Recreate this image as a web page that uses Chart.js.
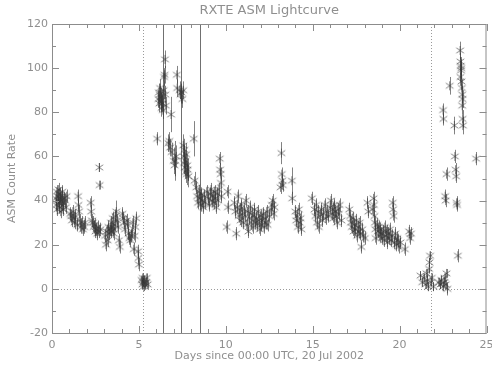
<!DOCTYPE html>
<html>
<head>
<meta charset="utf-8">
<title>RXTE ASM Lightcurve</title>
<script src="https://cdn.jsdelivr.net/npm/chart.js@4.4.1/dist/chart.umd.min.js"></script>
<style>
  html, body { margin: 0; padding: 0; background: #fff; }
  #lc { display: block; }
</style>
</head>
<body>
<canvas id="lc" width="492" height="367"></canvas>
<script>
// one-day ASM dwells: time in days since 00:00 UTC 20 Jul 2002, rate and 1-sigma error
const days = [
  0.22, 0.25, 0.28, 0.30, 0.33, 0.35, 0.38, 0.40, 0.42, 0.45, 0.48, 0.50, 0.52, 0.55, 0.58, 0.60, 0.63, 0.66, 0.70, 0.75, 0.80, 0.84,
  1.05, 1.10, 1.15, 1.20, 1.25, 1.30, 1.35, 1.45, 1.50, 1.52, 1.55, 1.60, 1.65, 1.70, 1.78, 1.85, 1.90,
  2.22, 2.25, 2.30, 2.35, 2.40, 2.45, 2.50, 2.55, 2.60, 2.65, 2.70, 2.72, 2.74, 2.78,
  3.05, 3.10, 3.15, 3.20, 3.25, 3.30, 3.35, 3.40, 3.42, 3.45, 3.50, 3.52, 3.55, 3.60, 3.65, 3.70, 3.75, 3.80, 3.85, 3.90,
  4.05, 4.10, 4.15, 4.20, 4.30, 4.35, 4.40, 4.45, 4.50, 4.55, 4.60, 4.65, 4.70, 4.75, 4.80, 4.85, 4.95, 4.97, 5.00,
  5.15, 5.20, 5.22, 5.25, 5.28, 5.30, 5.35, 5.40, 5.45, 5.50,
  6.05, 6.12, 6.15, 6.18, 6.20, 6.22, 6.25, 6.28, 6.30, 6.32, 6.35, 6.38, 6.42, 6.45, 6.48, 6.50, 6.52, 6.55,
  6.70, 6.75, 6.80, 6.85, 6.88, 7.00, 7.05, 7.10, 7.15,
  7.18, 7.20, 7.35, 7.40, 7.45, 7.50, 7.55,
  7.55, 7.58, 7.60, 7.62, 7.65, 7.68, 7.70, 7.72, 7.75, 7.78, 7.80, 7.85,
  8.15, 8.20,
  8.30, 8.35, 8.40, 8.45, 8.50, 8.55, 8.60, 8.65, 8.70, 8.75, 8.80, 8.90, 9.00, 9.05, 9.10,
  9.15, 9.20, 9.25, 9.30, 9.35, 9.40, 9.45, 9.50, 9.55, 9.60, 9.65, 9.67, 9.70, 9.72, 9.75,
  10.05, 10.10, 10.12, 10.50, 10.55, 10.60, 10.65, 10.70, 10.75, 10.80,
  10.85, 10.90, 10.95, 11.00, 11.05, 11.10, 11.15, 11.20, 11.25, 11.30,
  11.35, 11.40, 11.45, 11.50, 11.55, 11.60, 11.65, 11.70, 11.75, 11.80,
  11.85, 11.90, 11.95, 12.00, 12.05, 12.10, 12.15, 12.20, 12.25, 12.30,
  12.35, 12.40, 12.50, 12.60, 12.65, 12.70, 12.75, 12.80,
  13.15, 13.20, 13.22, 13.25, 13.28, 13.80, 13.82, 14.00, 14.05, 14.10, 14.15, 14.20, 14.25, 14.30, 14.35, 14.95,
  15.10, 15.15, 15.20, 15.25, 15.30, 15.35, 15.40, 15.50, 15.55, 15.60, 15.70, 15.75, 15.80, 15.90,
  16.00, 16.05, 16.10, 16.15, 16.20, 16.25, 16.30, 16.35, 16.40, 16.45, 16.50, 16.55, 16.65, 17.10,
  17.15, 17.20, 17.25, 17.30, 17.35, 17.40, 17.45, 17.50, 17.55, 17.60, 17.65, 17.70, 17.75, 17.80, 17.85, 17.90, 18.00,
  18.15, 18.20, 18.45, 18.50, 18.52, 18.55, 18.58, 18.60, 18.62, 18.70,
  18.75, 18.80, 18.85, 18.90, 18.95, 19.00, 19.05, 19.10, 19.15, 19.20,
  19.25, 19.30, 19.35, 19.40, 19.45, 19.50, 19.55, 19.60, 19.62, 19.65,
  19.70, 19.75, 19.80, 19.85, 19.90, 19.95, 20.05, 20.30, 20.55, 20.60,
  20.65,
  21.20, 21.30, 21.40, 21.50, 21.55, 21.60, 21.65, 21.70, 21.72, 21.75, 21.80, 21.85, 21.95,
  22.25, 22.35, 22.40, 22.50, 22.55, 22.60, 22.65, 22.70, 22.75,
  22.50, 22.52, 22.62, 22.65, 22.70, 22.88, 23.15, 23.18, 23.22, 23.25,
  23.28, 23.30, 23.35, 23.48, 23.50, 23.52, 23.53, 23.55, 23.50, 23.56,
  23.58, 23.60, 23.62, 23.60, 23.62, 23.64, 24.40
];

const rate = [
  41, 38, 44, 36, 42, 40, 45, 39, 37, 43, 41, 35, 40, 42, 38, 44, 39, 36, 41, 40, 37, 42,
  34, 33, 31, 35, 32, 30, 33, 29, 42, 38, 35, 31, 28, 30, 27, 28, 30,
  39, 35, 31, 30, 28, 29, 26, 27, 25, 28, 26, 55, 47, 27,
  24, 20, 26, 22, 28, 25, 27, 30, 26, 28, 32, 27, 25, 29, 33, 35, 31, 28, 22, 19,
  34, 32, 30, 27, 31, 29, 25, 23, 22, 24, 26, 30, 18, 24, 28, 32, 17, 14, 11,
  4, 2, 5, 3, 1, 4, 2, 3, 5, 2,
  68, 86, 89, 84, 88, 91, 85, 87, 82, 86, 84, 81, 90, 96, 97, 104, 88, 83,
  66, 67, 64, 79, 62, 58, 56, 58, 60,
  97, 91, 90, 88, 89, 86, 90,
  65, 60, 57, 63, 55, 58, 53, 61, 52, 56, 54, 51,
  68, 49,
  46, 42, 39, 44, 41, 38, 43, 40, 37, 42, 39, 44, 41, 38, 43,
  45, 40, 42, 39, 44, 41, 37, 43, 40, 45, 59, 54, 52, 48, 42,
  28, 44, 37, 39, 35, 25, 37, 42, 33, 36,
  31, 38, 34, 30, 36, 33, 40, 29, 35, 26,
  32, 37, 30, 34, 28, 33, 36, 30, 32, 29,
  35, 31, 27, 33, 29, 31, 34, 28, 32, 30,
  35, 29, 33, 36, 38, 40, 34, 37,
  46, 61.5, 52, 49, 47, 49, 41, 35, 31, 33, 28, 36, 30, 32, 27, 41,
  36, 33, 38, 30, 35, 28, 33, 36, 31, 34, 38, 32, 35, 33,
  37, 40, 34, 36, 32, 38, 35, 33, 30, 36, 34, 38, 31, 36,
  33, 30, 28, 32, 26, 29, 27, 31, 24, 28, 26, 30, 25, 19, 27, 24, 23,
  39, 35, 36, 41, 38, 33, 30, 27, 23, 29,
  26, 28, 24, 27, 25, 23, 26, 22, 28, 24,
  26, 21, 25, 23, 27, 22, 24, 39, 36, 33,
  21, 25, 20, 23, 22, 19, 21, 18, 26, 23,
  25,
  6, 3, 5, 2, 7, 4, 1, 9, 12, 15, 3, 5, 1,
  3, 2, 4, 1, 3, 5, 2, 7, 0,
  81, 77, 42, 40, 52, 92, 74, 60, 54, 51,
  39, 38, 15, 108, 103, 101, 99, 100, 96, 94,
  91, 88, 86, 83, 77, 74, 59
];

const rateErr = [
  3, 3, 3, 3, 3, 3, 3, 3, 3, 3, 3, 3, 3, 3, 3, 3, 3, 3, 3, 3, 3, 3,
  3, 3, 3, 3, 3, 3, 3, 3, 3, 3, 3, 3, 3, 3, 3, 3, 3,
  3, 3, 3, 3, 3, 3, 3, 3, 3, 3, 3, 2, 2, 3,
  3, 3, 3, 3, 3, 3, 3, 3, 3, 3, 3, 3, 3, 3, 3, 5, 3, 3, 3, 3,
  3, 3, 3, 3, 3, 3, 3, 3, 3, 3, 3, 3, 3, 3, 3, 3, 3, 3, 3,
  2, 2, 2, 2, 2, 2, 2, 2, 2, 2,
  3, 4, 4, 4, 4, 4, 4, 4, 4, 4, 4, 4, 4, 4, 4, 4, 4, 4,
  4, 4, 4, 8, 4, 6, 5, 9, 5,
  4, 4, 4, 4, 4, 4, 4,
  5, 5, 5, 5, 5, 5, 5, 5, 5, 5, 5, 5,
  8, 4,
  3, 3, 3, 3, 3, 3, 3, 3, 3, 3, 3, 3, 3, 3, 3,
  3, 3, 3, 3, 3, 3, 3, 3, 3, 3, 3, 3, 3, 3, 3,
  3, 3, 3, 3, 3, 3, 3, 3, 3, 3,
  3, 3, 3, 3, 3, 3, 3, 3, 3, 3,
  3, 3, 3, 3, 3, 3, 3, 3, 3, 3,
  3, 3, 3, 3, 3, 3, 3, 3, 3, 3,
  3, 3, 3, 3, 3, 3, 3, 3,
  3, 5, 3, 3, 3, 6, 3, 3, 3, 3, 3, 3, 3, 3, 3, 3,
  3, 3, 3, 3, 3, 3, 3, 3, 3, 3, 3, 3, 3, 3,
  3, 3, 3, 3, 3, 3, 3, 3, 3, 3, 3, 3, 3, 3,
  3, 3, 3, 3, 3, 3, 3, 3, 3, 3, 3, 3, 3, 3, 3, 3, 3,
  3, 3, 3, 3, 3, 3, 3, 3, 3, 3,
  3, 3, 3, 3, 3, 3, 3, 3, 3, 3,
  3, 3, 3, 3, 3, 3, 3, 3, 3, 3,
  3, 3, 3, 3, 3, 3, 3, 3, 3, 3,
  3,
  2, 2, 2, 2, 2, 2, 2, 2, 2, 2, 2, 2, 2,
  2, 2, 2, 2, 2, 2, 2, 2, 3,
  3, 3, 3, 3, 3, 4, 4, 3, 3, 3,
  3, 3, 3, 4, 4, 4, 4, 4, 4, 4,
  4, 4, 4, 4, 4, 4, 3
];

const xTicks = [0, 5, 10, 15, 20, 25];
const yTicks = [-20, 0, 20, 40, 60, 80, 100, 120];

// event markers (days)
const dottedDays = [5.23, 21.78];
const solidDays = [6.38, 7.41, 8.5];

const axisGrey = '#8c8c8c';
const textGrey = '#8f8f8f';
const markGrey = 'rgba(55,55,55,0.62)';
const font = { family: '"DejaVu Sans", sans-serif', size: 11 };

// psym=2 style asterisk: vertical bar plus an X
function asterisk(r) {
  const s = Math.ceil(2 * r + 2);
  const c = document.createElement('canvas');
  c.width = s; c.height = s;
  const g = c.getContext('2d');
  const m = s / 2;
  const dx = r * 0.85, dy = r * 0.6;
  g.strokeStyle = markGrey;
  g.lineWidth = 1;
  g.beginPath();
  g.moveTo(m, m - r); g.lineTo(m, m + r);
  g.moveTo(m - dx, m - dy); g.lineTo(m + dx, m + dy);
  g.moveTo(m - dx, m + dy); g.lineTo(m + dx, m - dy);
  g.stroke();
  return c;
}

const points = days.map((d, i) => ({ x: d, y: rate[i], err: rateErr[i] }));

// box, inward ticks, marker lines, zero line and error bars
const framePlugin = {
  id: 'frame',
  beforeDatasetsDraw(chart) {
    const { ctx, chartArea: a, scales: { x, y } } = chart;
    ctx.save();

    ctx.strokeStyle = '#9a9a9a';
    ctx.lineWidth = 1;
    ctx.setLineDash([1, 2]);
    const y0 = Math.round(y.getPixelForValue(0)) + 0.5;
    ctx.beginPath();
    ctx.moveTo(a.left, y0); ctx.lineTo(a.right, y0);
    dottedDays.forEach(d => {
      const px = Math.round(x.getPixelForValue(d)) + 0.5;
      ctx.moveTo(px, a.top); ctx.lineTo(px, a.bottom);
    });
    ctx.stroke();
    ctx.setLineDash([]);

    ctx.strokeStyle = '#707070';
    ctx.beginPath();
    solidDays.forEach(d => {
      const px = Math.round(x.getPixelForValue(d)) + 0.5;
      ctx.moveTo(px, a.top); ctx.lineTo(px, a.bottom);
    });
    ctx.stroke();

    // error bars under the symbols
    ctx.strokeStyle = markGrey;
    ctx.beginPath();
    points.forEach(p => {
      const px = Math.round(x.getPixelForValue(p.x)) + 0.5;
      ctx.moveTo(px, y.getPixelForValue(p.y - p.err));
      ctx.lineTo(px, y.getPixelForValue(p.y + p.err));
    });
    ctx.stroke();
    ctx.restore();
  },
  afterDraw(chart) {
    const { ctx, chartArea: a, scales: { x, y } } = chart;
    ctx.save();
    ctx.strokeStyle = axisGrey;
    ctx.lineWidth = 1;
    ctx.strokeRect(a.left + 0.5, a.top + 0.5, a.right - a.left - 1, a.bottom - a.top);

    ctx.beginPath();
    for (let d = 0; d <= 25; d += 1) {
      const px = Math.round(x.getPixelForValue(d)) + 0.5;
      const len = d % 5 === 0 ? 7 : 4;
      ctx.moveTo(px, a.bottom); ctx.lineTo(px, a.bottom - len);
      ctx.moveTo(px, a.top); ctx.lineTo(px, a.top + len);
    }
    for (let v = -20; v <= 120; v += 10) {
      const py = Math.round(y.getPixelForValue(v)) + 0.5;
      const len = v % 20 === 0 ? 7 : 4;
      ctx.moveTo(a.left, py); ctx.lineTo(a.left + len, py);
      ctx.moveTo(a.right, py); ctx.lineTo(a.right - len, py);
    }
    ctx.stroke();

    ctx.fillStyle = textGrey;
    ctx.font = '13px "DejaVu Sans", sans-serif';
    ctx.textAlign = 'center';
    ctx.textBaseline = 'middle';
    ctx.fillText('RXTE ASM Lightcurve', (a.left + a.right) / 2, 11);
    ctx.restore();
  }
};

new Chart(document.getElementById('lc'), {
  type: 'scatter',
  data: {
    datasets: [{
      label: 'ASM',
      data: points,
      pointStyle: asterisk(4.5),
      pointRadius: 4.5,
      pointHoverRadius: 4.5
    }]
  },
  options: {
    responsive: false,
    devicePixelRatio: 1,
    animation: false,
    events: [],
    layout: { padding: { top: 24, right: 5, left: 0, bottom: 0 } },
    plugins: {
      legend: { display: false },
      tooltip: { enabled: false }
    },
    scales: {
      x: {
        type: 'linear',
        min: 0,
        max: 25,
        afterBuildTicks: s => { s.ticks = xTicks.map(v => ({ value: v })); },
        afterFit: s => { s.height = 34; s.paddingLeft = 0; s.paddingRight = 0; },
        grid: { display: false, drawTicks: false },
        border: { display: false },
        ticks: { color: textGrey, font, padding: 6, maxRotation: 0 },
        title: {
          display: true,
          text: 'Days since 00:00 UTC, 20 Jul 2002',
          color: textGrey,
          font,
          padding: { top: 0, bottom: 4 }
        }
      },
      y: {
        type: 'linear',
        min: -20,
        max: 120,
        afterBuildTicks: s => { s.ticks = yTicks.map(v => ({ value: v })); },
        afterFit: s => { s.width = 52; },
        grid: { display: false, drawTicks: false },
        border: { display: false },
        ticks: { color: textGrey, font, padding: 4 },
        title: {
          display: true,
          text: 'ASM Count Rate',
          color: textGrey,
          font,
          padding: { top: 6, bottom: 0 }
        }
      }
    }
  },
  plugins: [framePlugin]
});
</script>
</body>
</html>
